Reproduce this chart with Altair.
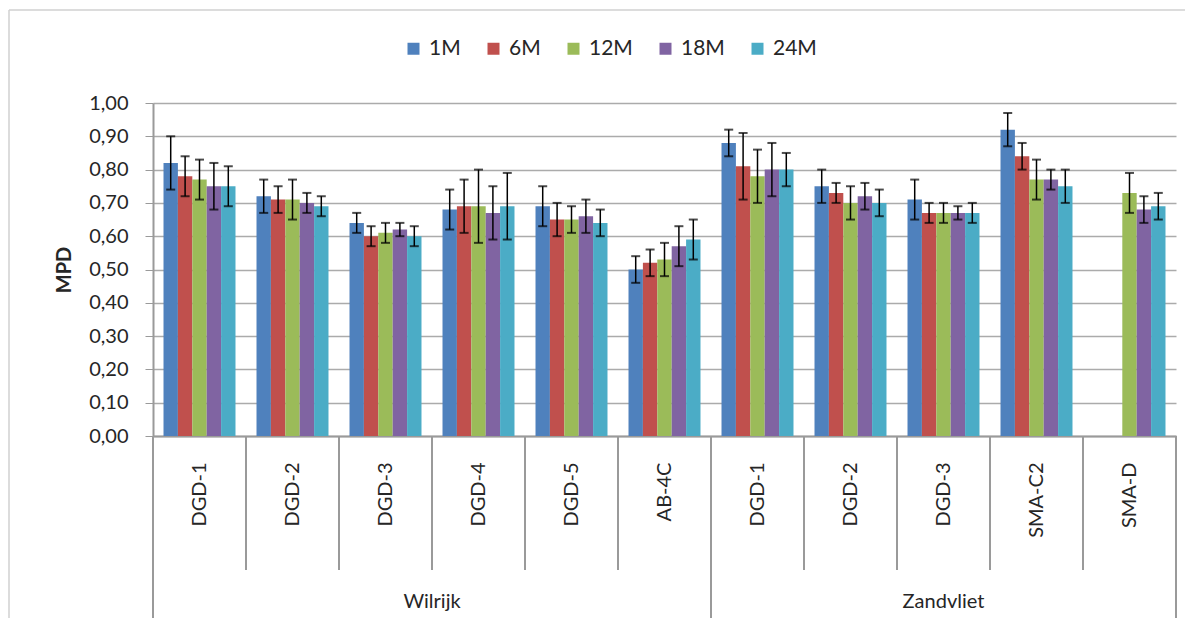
import altair as alt
import pandas as pd

# ---- data ----
sites = ["Wilrijk"] * 6 + ["Zandvliet"] * 5
categories = ["DGD-1", "DGD-2", "DGD-3", "DGD-4", "DGD-5", "AB-4C",
              "DGD-1", "DGD-2", "DGD-3", "SMA-C2", "SMA-D"]
series = ["1M", "6M", "12M", "18M", "24M"]
colors = ["#4F81BD", "#C0504D", "#9BBB59", "#8064A2", "#4BACC6"]

mpd_1m = [0.82, 0.72, 0.64, 0.68, 0.69, 0.50, 0.88, 0.75, 0.71, 0.92, None]
mpd_6m = [0.78, 0.71, 0.60, 0.69, 0.65, 0.52, 0.81, 0.73, 0.67, 0.84, None]
mpd_12m = [0.77, 0.71, 0.61, 0.69, 0.65, 0.53, 0.78, 0.70, 0.67, 0.77, 0.73]
mpd_18m = [0.75, 0.70, 0.62, 0.67, 0.66, 0.57, 0.80, 0.72, 0.67, 0.77, 0.68]
mpd_24m = [0.75, 0.69, 0.60, 0.69, 0.64, 0.59, 0.80, 0.70, 0.67, 0.75, 0.69]

err_1m = [0.08, 0.05, 0.03, 0.06, 0.06, 0.04, 0.04, 0.05, 0.06, 0.05, None]
err_6m = [0.06, 0.04, 0.03, 0.08, 0.05, 0.04, 0.10, 0.03, 0.03, 0.04, None]
err_12m = [0.06, 0.06, 0.03, 0.11, 0.04, 0.05, 0.08, 0.05, 0.03, 0.06, 0.06]
err_18m = [0.07, 0.03, 0.02, 0.08, 0.05, 0.06, 0.08, 0.04, 0.02, 0.03, 0.04]
err_24m = [0.06, 0.03, 0.03, 0.10, 0.04, 0.06, 0.05, 0.04, 0.03, 0.05, 0.04]

y_ticks = [0.0, 0.1, 0.2, 0.3, 0.4, 0.5, 0.6, 0.7, 0.8, 0.9, 1.0]

# ---- tables ----
means = [mpd_1m, mpd_6m, mpd_12m, mpd_18m, mpd_24m]
errs = [err_1m, err_6m, err_12m, err_18m, err_24m]
keys = [f"{s}|{c}" for s, c in zip(sites, categories)]
rows = []
for s, vals, es in zip(series, means, errs):
    for k, v, e in zip(keys, vals, es):
        if v is None:
            continue
        rows.append(dict(key=k, series=s, mpd=v, lo=v - e, hi=v + e))
df = pd.DataFrame(rows)
cats_df = pd.DataFrame({"key": keys})
group_start = pd.DataFrame({"key": [keys[0], keys[6]]})
group_end = pd.DataFrame({"key": [keys[-1]]})
one = pd.DataFrame({"k": [0]})

FONT = "Lato"
TXT = "#262626"
GRAY = "#9a9a9a"
W, H = 1023, 333

x_scale = alt.Scale(domain=keys, paddingInner=0, paddingOuter=0)
x_axis = alt.Axis(title=None, labelExpr="split(datum.label, '|')[1]",
                  labelAngle=270, labelAlign="right", labelBaseline="middle",
                  ticks=False, labelPadding=26, labelFontSize=20,
                  labelColor=TXT, domainColor=GRAY, domainWidth=2,
                  grid=False, labelOverlap=False)
xo = alt.XOffset("series:N", scale=alt.Scale(domain=series, paddingOuter=0.73,
                                             paddingInner=0))

y_axis = alt.Axis(title="MPD", values=y_ticks, tickCount=11,
                  labelExpr="replace(format(datum.value, '.2f'), '.', ',')",
                  tickSize=8, tickColor=GRAY, labelPadding=17,
                  labelFontSize=20, labelColor=TXT, titleFontSize=20,
                  titleFontWeight="bold", titleColor=TXT, titlePadding=14,
                  domainColor=GRAY, domainWidth=2, labelOverlap=False,
                  gridColor="#ababab", gridWidth=1.5)
y_scale = alt.Scale(domain=[0, 1], nice=False)


def xk(band=0.5):
    return alt.X("key:N", scale=x_scale, axis=x_axis, bandPosition=band)


def yq(field):
    return alt.Y(field, scale=y_scale, axis=y_axis)


bars = alt.Chart(df).mark_bar().encode(
    x=alt.X("key:N", scale=x_scale, axis=x_axis), xOffset=xo,
    y=yq("mpd:Q"),
    color=alt.Color("series:N", scale=alt.Scale(domain=series, range=colors),
                    legend=alt.Legend(orient="none", legendX=250, legendY=-65,
                                      direction="horizontal", title=None,
                                      symbolType="square", symbolSize=144,
                                      symbolStrokeWidth=0, labelFontSize=21,
                                      labelColor=TXT, labelOffset=5,
                                      columnPadding=22)),
)

err_rule = alt.Chart(df).mark_rule(color="black", strokeWidth=1.5).encode(
    x=alt.X("key:N", scale=x_scale, axis=x_axis), xOffset=xo,
    y=yq("lo:Q"), y2="hi:Q")
cap_lo = alt.Chart(df).mark_tick(color="black", thickness=2, size=9).encode(
    x=alt.X("key:N", scale=x_scale, axis=x_axis), xOffset=xo, y=yq("lo:Q"))
cap_hi = alt.Chart(df).mark_tick(color="black", thickness=2, size=9).encode(
    x=alt.X("key:N", scale=x_scale, axis=x_axis), xOffset=xo, y=yq("hi:Q"))

sep_short = alt.Chart(cats_df).mark_rule(color=GRAY, strokeWidth=2).encode(
    x=xk(0), y=alt.value(H), y2=alt.value(H + 134))
sep_long = alt.Chart(group_start).mark_rule(color=GRAY, strokeWidth=2).encode(
    x=xk(0), y=alt.value(H), y2=alt.value(H + 184))
sep_end = alt.Chart(group_end).mark_rule(color=GRAY, strokeWidth=2).encode(
    x=xk(1), y=alt.value(H), y2=alt.value(H + 184))

lab_w = alt.Chart(pd.DataFrame({"key": [keys[3]], "site": ["Wilrijk"]})).mark_text(
    fontSize=20, color=TXT, baseline="middle", align="center").encode(
    x=xk(0), y=alt.value(H + 166), text="site:N")
lab_z = alt.Chart(pd.DataFrame({"key": [keys[8]], "site": ["Zandvliet"]})).mark_text(
    fontSize=20, color=TXT, baseline="middle", align="center").encode(
    x=xk(0.5), y=alt.value(H + 166), text="site:N")

frame_top = alt.Chart(one).mark_rule(color="#d0d0d0", strokeWidth=1.5).encode(
    x=alt.value(-144), x2=alt.value(W + 20), y=alt.value(-93))
frame_left = alt.Chart(one).mark_rule(color="#d0d0d0", strokeWidth=1.5).encode(
    x=alt.value(-144), y=alt.value(-93), y2=alt.value(H + 190))

chart = alt.layer(
    bars, err_rule, cap_lo, cap_hi,
    sep_short, sep_long, sep_end, lab_w, lab_z, frame_top, frame_left
).properties(
    width=W, height=H,
    padding={"left": 145, "top": 95, "right": 9, "bottom": 182},
    autosize=alt.AutoSizeParams(type="none"),
).configure(font=FONT).configure_view(stroke=None)

chart.save("out.html", embed_options={"renderer": "svg", "actions": False})
